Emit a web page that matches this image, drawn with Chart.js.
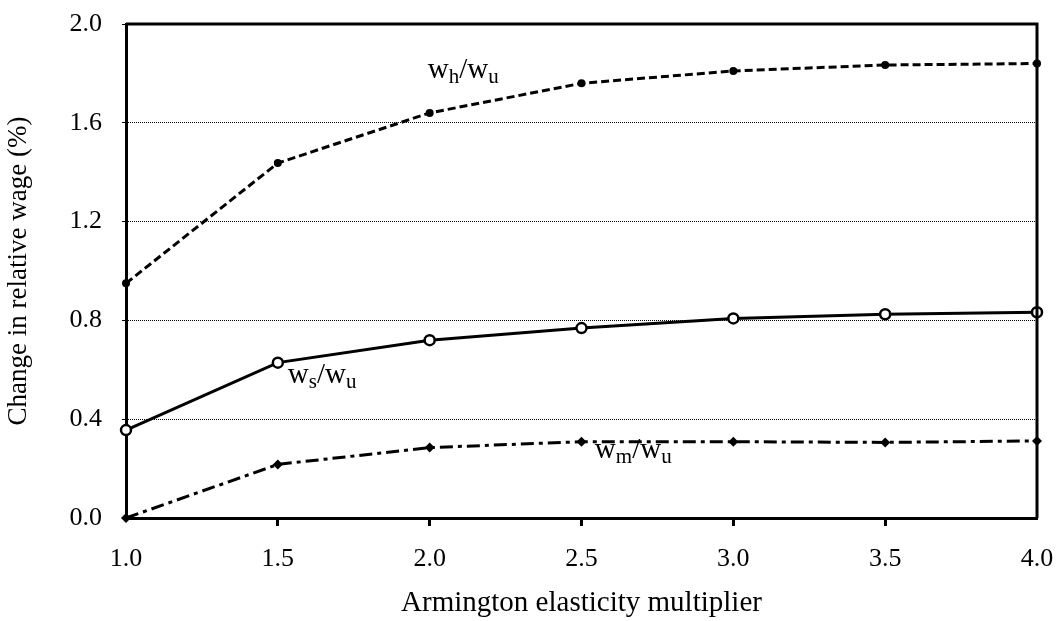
<!DOCTYPE html>
<html>
<head>
<meta charset="utf-8">
<script src="https://cdn.jsdelivr.net/npm/chart.js@4/dist/chart.umd.min.js"></script>
<style>
  body { margin: 0; background: #fff; }
  #wrap { width: 1061px; height: 621px; }
</style>
</head>
<body>
<div id="wrap"><canvas id="chartWage" width="1061" height="621"></canvas></div>
<script>
// Armington elasticity multiplier
const multipliers = [1.0, 1.5, 2.0, 2.5, 3.0, 3.5, 4.0];
// change in relative wage (%)
const whWu = [0.95, 1.437, 1.64, 1.76, 1.81, 1.834, 1.84];
const wsWu = [0.356, 0.629, 0.72, 0.769, 0.808, 0.825, 0.833];
const wmWu = [0.0, 0.217, 0.285, 0.309, 0.309, 0.306, 0.312];
const yTicks = [0.0, 0.4, 0.8, 1.2, 1.6, 2.0];

const serif = "'Liberation Serif', 'Times New Roman', serif";

// in-plot labels, anchored in data units (left edge, baseline)
const seriesLabels = [
  { x: 1.994, y: 1.781, main: 'w', sub: 'h' },
  { x: 1.533, y: 0.547, main: 'w', sub: 's' },
  { x: 2.544, y: 0.243, main: 'w', sub: 'm' },
];

const toPoints = (arr) => arr.map((v, i) => ({ x: multipliers[i], y: v }));

const frameAndLabels = {
  id: 'frameAndLabels',
  afterDraw(chart) {
    const ctx = chart.ctx;
    const a = chart.chartArea;
    ctx.save();
    ctx.strokeStyle = '#000';
    ctx.lineWidth = 3;
    ctx.beginPath();
    ctx.moveTo(a.left, a.top);
    ctx.lineTo(a.right, a.top);
    ctx.lineTo(a.right, a.bottom);
    ctx.stroke();

    const xs = chart.scales.x;
    const ys = chart.scales.y;
    ctx.fillStyle = '#000';
    ctx.textBaseline = 'alphabetic';
    seriesLabels.forEach((l) => {
      let px = xs.getPixelForValue(l.x);
      const py = ys.getPixelForValue(l.y);
      const parts = [
        [l.main, false], [l.sub, true], ['/', false], ['w', false], ['u', true],
      ];
      parts.forEach(([t, isSub]) => {
        ctx.font = (isSub ? '21px ' : '29px ') + serif;
        ctx.fillText(t, px, isSub ? py + 5 : py);
        px += ctx.measureText(t).width;
      });
    });
    ctx.restore();
  },
};

const ctx = document.getElementById('chartWage').getContext('2d');
const chartWage = new Chart(ctx, {
  type: 'line',
  data: {
    datasets: [
      {
        label: 'wh/wu',
        data: toPoints(whWu),
        borderColor: '#000',
        backgroundColor: '#000',
        borderWidth: 3,
        borderDash: [8, 4],
        pointStyle: 'circle',
        pointRadius: 4,
        pointBorderWidth: 0,
        tension: 0,
        clip: false,
      },
      {
        label: 'ws/wu',
        data: toPoints(wsWu),
        borderColor: '#000',
        backgroundColor: '#fff',
        borderWidth: 3,
        pointStyle: 'circle',
        pointRadius: 5,
        pointBorderWidth: 2.5,
        pointBorderColor: '#000',
        pointBackgroundColor: '#fff',
        tension: 0,
        clip: false,
      },
      {
        label: 'wm/wu',
        data: toPoints(wmWu),
        borderColor: '#000',
        backgroundColor: '#000',
        borderWidth: 3,
        borderDash: [13, 5, 4, 5],
        pointStyle: 'rectRot',
        pointRadius: 5,
        pointBorderWidth: 0,
        tension: 0,
        clip: false,
      },
    ],
  },
  options: {
    responsive: false,
    animation: false,
    layout: { padding: { top: 24, right: 24, left: 0, bottom: 0 } },
    plugins: {
      legend: { display: false },
      tooltip: { enabled: false },
    },
    scales: {
      x: {
        type: 'linear',
        min: 1,
        max: 4,
        afterBuildTicks: (scale) => {
          scale.ticks = multipliers.map((v) => ({ value: v }));
        },
        afterFit: (scale) => {
          scale.height = 103;
          scale.paddingLeft = 0;
          scale.paddingRight = 0;
        },
        ticks: {
          color: '#000',
          font: { family: serif, size: 26 },
          padding: 18,
          maxRotation: 0,
          callback: (v) => Number(v).toFixed(1),
        },
        grid: {
          drawOnChartArea: false,
          drawTicks: true,
          tickLength: 8,
          tickWidth: 3,
          tickColor: (c) => (c.tick && (c.tick.value === 1 || c.tick.value === 4) ? 'rgba(0,0,0,0)' : '#000'),
        },
        border: { color: '#000', width: 3 },
        title: {
          display: true,
          text: 'Armington elasticity multiplier',
          color: '#000',
          font: { family: serif, size: 29 },
          padding: { top: 0, bottom: 0 },
        },
      },
      y: {
        min: 0,
        max: 2,
        afterBuildTicks: (scale) => {
          scale.ticks = yTicks.map((v) => ({ value: v }));
        },
        afterFit: (scale) => {
          scale.width = 126;
          scale.paddingTop = 0;
          scale.paddingBottom = 0;
        },
        ticks: {
          color: '#000',
          font: { family: serif, size: 26 },
          padding: 20,
          callback: (v) => Number(v).toFixed(1),
        },
        grid: {
          color: (c) => (c.tick && (c.tick.value === 0 || c.tick.value === 2) ? 'rgba(0,0,0,0)' : '#000'),
          lineWidth: 1,
          tickLength: 4,
          tickWidth: 1,
          tickColor: '#000',
          tickBorderDash: [],
        },
        border: { color: '#000', width: 3, dash: [1, 1] },
        title: {
          display: true,
          text: 'Change in relative wage (%)',
          color: '#000',
          font: { family: serif, size: 27 },
          padding: { top: 3, bottom: 0 },
        },
      },
    },
  },
  plugins: [frameAndLabels],
});
</script>
</body>
</html>
